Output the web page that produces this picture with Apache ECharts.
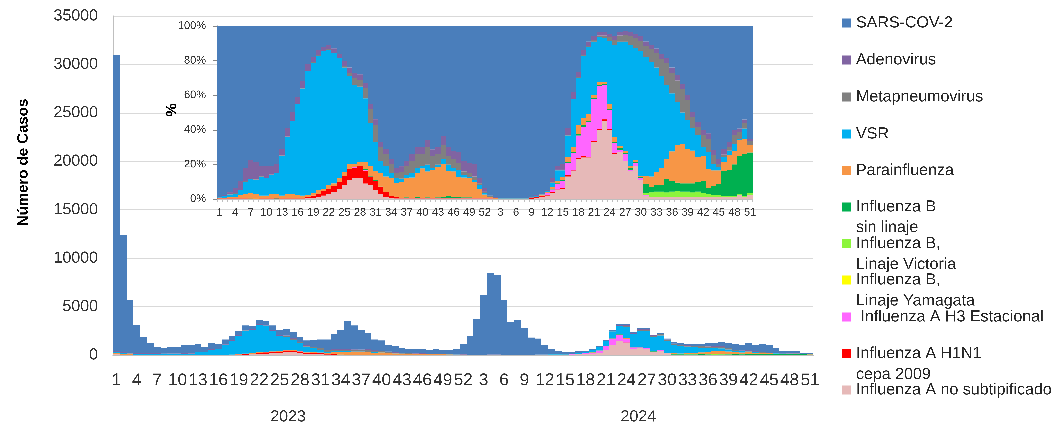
<!DOCTYPE html>
<html><head><meta charset="utf-8">
<script src="https://cdn.jsdelivr.net/npm/echarts@6/dist/echarts.min.js"></script>
<style>html,body{margin:0;padding:0;background:#fff}#c{width:1056px;height:427px}</style>
</head><body><div id="c"></div>
<script>
// ---- categories ----
const weekLabels = ['1','2','3','4','5','6','7','8','9','10','11','12','13','14','15','16','17','18','19','20','21','22','23','24','25','26','27','28','29','30','31','32','33','34','35','36','37','38','39','40','41','42','43','44','45','46','47','48','49','50','51','52',
'1','2','3','4','5','6','7','8','9','10','11','12','13','14','15','16','17','18','19','20','21','22','23','24','25','26','27','28','29','30','31','32','33','34','35','36','37','38','39','40','41','42','43','44','45','46','47','48','49','50','51'];
const yearLabels = ['2023','2024'];

// ---- weekly total cases (main chart) ----
const totals = [31000,12400,5650,3100,1850,1200,800,700,800,800,1000,1000,1100,800,1200,1100,1600,1950,2500,3050,3000,3600,3500,3050,2600,2650,2400,1900,1500,1550,1600,1600,2150,2600,3500,3050,2600,2300,1600,1500,1050,950,750,600,600,600,500,600,500,550,650,1100,
1950,3700,6200,8500,8300,5650,3450,3600,2750,1800,1700,1050,650,450,350,350,400,450,600,950,1550,2600,3200,3200,2400,2750,2750,2100,2300,1700,1300,1200,1150,1150,1150,1200,1250,1350,1250,1100,1050,1200,1000,1150,1050,700,450,400,400,250,200];

// ---- share of each virus per week, % (inset chart) ----
const noSubtipificado = [0.2,0.2,0.2,0.2,0.2,0.2,0.2,0.2,0.2,0.2,0.2,0.2,0.2,0.2,0.2,0.2,0.2,
0.5,0.5,1,2,3,4,6,8,11,12,12,9,8,5,3,1,0.5,
0.3,0.3,0.3,0.3,0.3,0.3,0.3,0.3,0.3,0.3,0.3,0.3,0.3,0.3,0.3,0.3,0.3,0.3,
0.3,0.2,0.1,0.1,0.1,0.1,0.1,0.1,0.2,0.5,1,2,3.5,5,6,13,16,23,24,24,33,40,45,40,26,27,22,16,19,11,2,
1.3,1.3,1.3,1.3,1.3,1.3,1.3,1.3,1.3,1.3,1.3,1.3,1.3,1.3,1.3,1.3,1.3,2.5,1.3,2.3];
const h1n1 = [0.1,0.1,0.1,0.1,0.1,0.1,0.1,0.1,0.1,0.1,0.1,0.1,0.1,0.1,0.1,0.1,0.1,
0.5,1.5,2,2.5,3,3.5,4,5.5,6.5,6,7,7.5,5,5.5,4,3,1,0.7,0.3,
0.1,0.1,0.1,0.1,0.1,0.1,0.1,0.1,0.1,0.1,0.1,0.1,0.1,0.1,0.3,0.3,
0.5,0,0,0,0,0,0,0,0.3,0.5,0.5,0.5,0.5,0.5,0.5,0.7,0.5,0.7,0.7,0.5,0.7,0.5,1,0.3,0.5,0.3,0.2,
0,0,0,0,0,0,0,0,0,0,0,0,0,0,0,0,0,0,0,0,0,0,0,0];
const h3Estacional = [0,0,0,0,0,0,0,0,0,0,0,0,0,0,0,0,0,0,0,0,0,0,0,0,0,0,0.3,0.3,0.3,0,0,0,0,0,0,0,0,0,0,0,0,0,0,0,0,0,0,0,0,0,0,0,
0,0,0,0,0,0,0,0,0,0,0.5,1,1.5,3,4,7,10,13,17,20,24,25,20,11,6,1,4,1,2,1,0.5,
0,0,0,0,0,0,0,0,0,0,0,0,0,0,0,0,0,0,0,0];
const yamagata = [0,0,0,0,0,0,0,0.2,0,0,0,0,0,0,0,0,0,0,0,0,0,0,0,0,0,0,0,0,0,0,0,0,0,0,0,0,0,0,0,0,0,0,0,0,0,0,0,0,0,0,0,0,
0,0,0,0,0,0,0,0,0,0,0,0,0,0,0,0,0,0,0,0,0,0,0,0,0,0,0,0,0,0,0,0,0,0,0,0,0,0,0,0,0,0,0,0,0,0,0,0,0,0,0];
const victoria = [0,0,0,0,0,0,0.3,0,0,0,0,0,0,0,0,0,0,0,0,0,0,0,0,0,0,0,0,0,0,0,0,0,0,0,0,0,0,0,0,0,0,0,0,0,0,0,0,0,0,0,0,0,
0,0,0,0,0,0,0,0,0,0,0,0,0,0,0,0,0,0,0,0,0,0,0,0,0,0,0,0,0,0,
1,2.5,3,3,2.5,3,3.5,3,3,2.5,3,2,1.5,1,1,0.5,0.5,0.5,0.5,0.5,1];
const bSinLinaje = [0,0,0,0,0,0,0,0,0,0,0,0.2,0,0,0,0,0,0,0,0,0,0,0,0,0,0,0,0,
0.5,0.5,0.3,0.2,0.2,0.2,0.2,0.2,0.5,0.3,0.8,0.3,0.5,0.3,0.5,1,1.5,1,1,0.5,0.5,0.3,0.2,0,
0,0,0,0,0,0,0,0,0,0,0,0,0.5,0.5,0.5,0.5,0.5,1,1,0.5,0.5,0.5,0.5,0.5,0.5,1,0.5,1,0.5,0.5,
5,3.2,3.7,3.7,7.7,6.2,4.7,4.7,4.7,5.2,5.7,7.2,3.7,5.2,6.2,14.2,15.2,18.2,22,24.2,23.7];
const parainfluenza = [0.3,0.3,0.8,0.8,1.8,2.7,2.7,2.5,1.7,1.7,2.7,2.5,1.7,2.7,2.7,2.2,1.7,1.5,1.5,2,1.5,2,1.5,2,2,2.5,1.7,2.2,4,5.5,5.2,7.8,8.8,10.3,8.2,9,11,11.7,13.7,17.2,15,16.2,17.5,19,14.5,14.5,11.5,11.5,11,9.3,5.2,2,
0.3,0.2,0.1,0.1,0.1,0.1,0.1,0.1,0.1,0,0.3,0.5,1,1.5,1.5,3,3,5,4,4,2,1.5,1,3,3,1.5,1,1,1,1,5,6,7.5,10,11.5,17,21.5,23,20,19,14.5,14.5,11,9,8,5.5,8.5,8,9.5,8.5,4.5];
const vsr = [0.3,1,1.5,2,3,7,8,8,11,10,11,12,23,33,42,52.5,62,71.5,75.5,78,79.5,78.5,75.5,69.5,60.5,51,46,43.5,37,25,17,7,6,3,2.5,2,2,2.5,3,1.5,4,1,1.5,3,3.5,2,4,1.5,1,1,2,0.7,
0.2,0.1,0.1,0.1,0.1,0.1,0.1,0.1,0.2,0.5,0.3,0.5,2.5,6,4,12.5,27.7,27.3,35.8,39,30.8,26,25.5,36.7,53,60.2,63.3,70,65,72,69,66,60.5,53,43,33.5,25,18,16.6,12.8,12.5,5,9.5,3.5,2,2.9,2.5,4,0.5,6.2,0];
const metapneumovirus = [0.2,0.2,0.2,0.2,0.2,0.2,0.2,0.2,0.2,0.2,0.2,0.2,0.2,0.2,0.2,0.2,0.2,0.2,0.2,0.2,0.2,0.2,0.2,0.2,
1,2,4,4,6,8,10,8,7,5,3,4,5,7,8,7,10,7,6,8,5,5,4,2,2,2,1,1,
0.2,0.1,0.1,0.1,0.1,0.1,0.1,0.1,0.1,0.1,0.1,0.1,
0.5,0.5,0.5,0.3,0.3,0.5,0.5,0.5,1,1,1.5,2,3,3.5,4,5,5.5,6,6.5,7.5,8.5,10,12.5,12,12.5,13.7,11.4,6.6,4.6,6.8,7.9,5.3,1.5,1.3,2,5,4,3.2,2];
const adenovirus = [0.3,0.5,1,3,5,8,11,10,6,7,5,5,4,5,5,4,4,4,3,3,2.5,2.5,2.5,2.5,3,
3,3,3,3,3,3,3,3,3,3,3,3,4,4,4,4,4,4,5,5,5,6,6,6,7,3,2,
0.5,0.4,0.2,0.2,0.2,0.2,0.2,0.2,0.2,0.5,0.4,0.5,2,2,3,4,4,3,3,2.5,2,2,2,2,2,2,2,
2.5,2.5,2.5,2.5,2.5,2.5,3,3,3,3,3,3,3,3,3,3,3,3,3,3,3,2,2,1.5];
const sarsCov2 = [99,98,96,94,90,82,77,78,81,81,81,80,71,59,50,41,32,22,18,14,12,11,13,16,20,24,27,28,33,45,54,67,71,77,82,81,78,74,70,71,66,72,70,64,70,72,73,78,79,80,88,94,
98,99,99.5,99.5,99.5,99.5,99.5,99.5,99,98,97,95,88,81,80,59,38,26.5,14,9,6,3.5,3.5,4.5,6,3.5,3,3.5,4.5,6,9,11,13,16,18.5,24,28.5,33.3,40,49.6,55.4,60.2,62.1,71.7,77,71.3,67,60.2,59.6,54,65.4];

// ---- series definitions (stack order bottom -> top) ----
const seriesNames = ['Influenza A no subtipificado','Influenza A H1N1 cepa 2009','Influenza A H3 Estacional','Influenza B, Linaje Yamagata','Influenza B, Linaje Victoria','Influenza B sin linaje','Parainfluenza','VSR','Metapneumovirus','Adenovirus','SARS-COV-2'];
const seriesShares = [noSubtipificado,h1n1,h3Estacional,yamagata,victoria,bSinLinaje,parainfluenza,vsr,metapneumovirus,adenovirus,sarsCov2];
const seriesColors = ['#E6B9B8','#FF0000','#FF66FF','#FFFF00','#8CF53C','#00B050','#F79646','#00B0F0','#808080','#8064A2','#4A7EBB'];

const FONT = '"Liberation Sans", Arial, sans-serif';
const shareSum = weekLabels.map((_, i) => seriesShares.reduce((s, a) => s + a[i], 0));

const series = [];
seriesShares.forEach((arr, k) => {
  series.push({
    name: seriesNames[k], type: 'bar', stack: 'cases', xAxisIndex: 0, yAxisIndex: 0,
    barCategoryGap: '0%', itemStyle: {color: seriesColors[k], borderWidth: 0},
    emphasis: {disabled: true},
    data: arr.map((v, i) => totals[i] * v / shareSum[i])
  });
});
seriesShares.forEach((arr, k) => {
  series.push({
    name: seriesNames[k], type: 'bar', stack: 'pct', xAxisIndex: 1, yAxisIndex: 1,
    barCategoryGap: '0%', itemStyle: {color: seriesColors[k], borderWidth: 0},
    emphasis: {disabled: true},
    data: arr.map((v, i) => v / shareSum[i] * 100)
  });
});

// legend rows: first line carries the colour square, a second line (if any) is a plain text row
const legendRows = [
  {name: 'SARS-COV-2', text: 'SARS-COV-2', cy: 23, icon: true},
  {name: 'Adenovirus', text: 'Adenovirus', cy: 60, icon: true},
  {name: 'Metapneumovirus', text: 'Metapneumovirus', cy: 97, icon: true},
  {name: 'VSR', text: 'VSR', cy: 134, icon: true},
  {name: 'Parainfluenza', text: 'Parainfluenza', cy: 170.5, icon: true},
  {name: 'Influenza B sin linaje', text: 'Influenza B', cy: 207, icon: true},
  {name: 'Influenza B sin linaje', text: 'sin linaje', cy: 227.5, icon: false},
  {name: 'Influenza B, Linaje Victoria', text: 'Influenza B,', cy: 243.5, icon: true},
  {name: 'Influenza B, Linaje Victoria', text: 'Linaje Victoria', cy: 264.5, icon: false},
  {name: 'Influenza B, Linaje Yamagata', text: 'Influenza B,', cy: 280, icon: true},
  {name: 'Influenza B, Linaje Yamagata', text: 'Linaje Yamagata', cy: 301, icon: false},
  {name: 'Influenza A H3 Estacional', text: ' Influenza A H3 Estacional', cy: 317, icon: true},
  {name: 'Influenza A H1N1 cepa 2009', text: 'Influenza A H1N1', cy: 353.5, icon: true},
  {name: 'Influenza A H1N1 cepa 2009', text: 'cepa 2009', cy: 374.5, icon: false},
  {name: 'Influenza A no subtipificado', text: 'Influenza A no subtipificado', cy: 390, icon: true}
];
const legends = legendRows.map(it => ({
  left: 842, top: it.cy - 10, padding: 0,
  itemWidth: 9, itemHeight: 9, itemGap: 0, selectedMode: false,
  data: [it.icon ? {name: it.name, icon: 'rect'} : {name: it.name, icon: 'none'}],
  formatter: () => it.text,
  textStyle: {fontFamily: FONT, fontSize: 16, lineHeight: 20, color: '#262626'}
}));

// pixel ratio 5 with grid widths that make every week column a whole number of device pixels
const chart = echarts.init(document.getElementById('c'), null, {renderer: 'canvas', devicePixelRatio: 5});
chart.setOption({
  animation: false,
  backgroundColor: '#ffffff',
  textStyle: {fontFamily: FONT},
  legend: legends,
  graphic: [
    {type: 'text', x: 172, y: 110, rotation: Math.PI / 2, z: 10,
     style: {text: '%', fontSize: 15, fontWeight: 'bold', fill: '#000', fontFamily: FONT, align: 'center', verticalAlign: 'middle'}}
  ],
  grid: [
    {left: 113, top: 16, width: 700.4, height: 339, outerBoundsMode: 'none', containLabel: false},
    {left: 217, top: 26, width: 535.6, height: 173, outerBoundsMode: 'none', containLabel: false}
  ],
  xAxis: [
    {type: 'category', gridIndex: 0, data: weekLabels, boundaryGap: true,
     axisLine: {show: true, lineStyle: {color: '#BFBFBF'}}, axisTick: {show: false},
     axisLabel: {interval: 2, fontSize: 17, color: '#333', margin: 17, fontFamily: FONT, hideOverlap: false},
     splitLine: {show: false}},
    {type: 'category', gridIndex: 1, data: weekLabels, boundaryGap: true,
     axisLine: {show: true, lineStyle: {color: '#BFBFBF'}},
     axisTick: {show: true, interval: 0, length: 3, lineStyle: {color: '#BFBFBF'}},
     axisLabel: {interval: 2, fontSize: 11, color: '#333', margin: 8, fontFamily: FONT, hideOverlap: false},
     splitLine: {show: false}},
    {type: 'category', gridIndex: 0, data: yearLabels, position: 'bottom', offset: 46,
     axisLine: {show: false}, axisTick: {show: false},
     axisLabel: {fontSize: 16, color: '#333', margin: 8, fontFamily: FONT},
     splitLine: {show: false}}
  ],
  yAxis: [
    {type: 'value', gridIndex: 0, min: 0, max: 35000, interval: 5000,
     axisLine: {show: true, lineStyle: {color: '#BFBFBF'}}, axisTick: {show: false},
     axisLabel: {fontSize: 16, color: '#333', margin: 15, fontFamily: FONT, formatter: v => String(v)},
     splitLine: {show: true, lineStyle: {color: '#D9D9D9', width: 1}},
     name: 'Número de Casos', nameLocation: 'middle', nameGap: 82, nameRotate: 90,
     nameTextStyle: {fontSize: 15, fontWeight: 'bold', color: '#000', fontFamily: FONT, padding: [0, 0, 0, 46]}},
    {type: 'value', gridIndex: 1, min: 0, max: 100, interval: 20,
     axisLine: {show: true, lineStyle: {color: '#868686'}},
     axisTick: {show: true, length: 4, lineStyle: {color: '#868686'}},
     axisLabel: {fontSize: 11, color: '#333', margin: 11, fontFamily: FONT, formatter: '{value}%'},
     splitLine: {show: false}}
  ],
  series: series
});
</script>
</body></html>
